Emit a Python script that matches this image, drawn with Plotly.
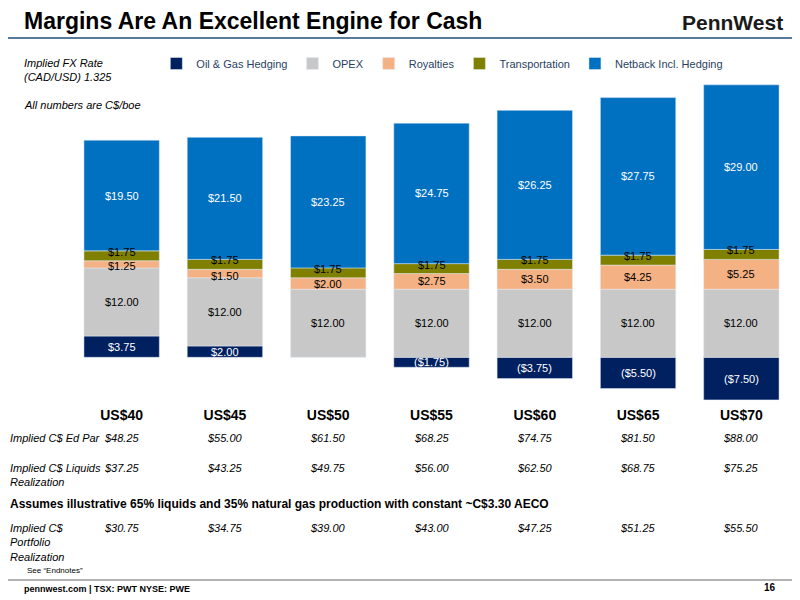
import plotly.graph_objects as go
import numpy as np

cats = ["US$40","US$45","US$50","US$55","US$60","US$65","US$70"]
hedging = [3.75, 2.00, 0, -1.75, -3.75, -5.50, -7.50]
opex = [12.00]*7
royalties = [1.25, 1.50, 2.00, 2.75, 3.50, 4.25, 5.25]
transport = [1.75]*7
netback = [19.50, 21.50, 23.25, 24.75, 26.25, 27.75, 29.00]
ed_par = ["$48.25","$55.00","$61.50","$68.25","$74.75","$81.50","$88.00"]
liquids = ["$37.25","$43.25","$49.75","$56.00","$62.50","$68.75","$75.25"]
portfolio = ["$30.75","$34.75","$39.00","$43.00","$47.25","$51.25","$55.50"]

F = "Liberation Sans, Arial, sans-serif"
series = [("Oil & Gas Hedging", hedging, "#002060", "white"),
          ("OPEX", opex, "#c8c8c8", "black"),
          ("Royalties", royalties, "#f4b183", "black"),
          ("Transportation", transport, "#7f7f00", "black"),
          ("Netback Incl. Hedging", netback, "#0070c0", "white")]
fig = go.Figure()
for name, vals, col, tc in series:
    fig.add_bar(x=cats, y=vals, name=name, marker_color=col, width=0.73)

ann = []
base = np.zeros(7)
for name, vals, col, tc in series:
    v = np.array(vals)
    for i, c in enumerate(cats):
        if v[i] == 0: continue
        if v[i] < 0:
            yc = v[i] / 2; lab = f"(${-v[i]:.2f})"
        else:
            yc = base[i] + v[i] / 2; lab = f"${v[i]:.2f}"
        shift = 0
        if name == "Transportation": shift = 4
        if name == "Royalties" and v[i] < 1.8: shift = -2
        ann.append(dict(x=c, y=yc, xref="x", yref="y", text=lab, showarrow=False, yshift=shift,
                        font=dict(family=F, size=11, color=tc)))
    base = base + np.where(v > 0, v, 0)

def pt(x, y, text, size=11, **kw):
    ann.append(dict(x=x, y=y, xref="paper", yref="paper", text=text, showarrow=False,
                    xanchor=kw.pop("xanchor", "left"), yanchor=kw.pop("yanchor", "top"),
                    align="left", font=dict(family=F, size=size, color=kw.pop("color", "black")), **kw))

W, H = 800, 600
fig.update_layout(
    barmode="relative", width=W, height=H,
    margin=dict(l=62, r=15, t=70, b=203, autoexpand=False),
    plot_bgcolor="white", paper_bgcolor="white",
    xaxis=dict(tickfont=dict(family=F, size=14, color="black"), showline=False, ticks="",
               tickvals=cats, ticktext=[f"<b>{c}</b>" for c in cats], ticklabelstandoff=0),
    yaxis=dict(visible=False, range=[-8.4, 49.2]),
    legend=dict(orientation="h", x=0.515, xanchor="center", y=1.0, yanchor="bottom",
                font=dict(family=F, size=11), traceorder="normal", itemwidth=30),
    font=dict(family=F),
)
def P(xp, yp):
    return (xp - 8 - 62) / 723, (397 - (yp - 8)) / 327
def T(xp, yp, text, size=11, **kw):
    x, y = P(xp, yp); pt(x, y, text, size, **kw)

T(22, 6, "<b>Margins Are An Excellent Engine for Cash</b>", 23)
T(680, 9, "<b>PennWest</b>", 21, color="#1a1a1a")
T(22, 55, "<i>Implied FX Rate<br>(CAD/USD) 1.325</i>", 11)
T(22, 97, "<i>All numbers are C$/boe</i>", 11)
centers = [122 + 103.2 * i for i in range(7)]
T(8, 430, "<i>Implied C$ Ed Par</i>", 11)
T(8, 460, "<i>Implied C$ Liquids<br>Realization</i>", 11)
T(8, 495, "<b>Assumes illustrative 65% liquids and 35% natural gas production with constant ~C$3.30 AECO</b>", 12)
T(8, 520, "<i>Implied C$<br>Portfolio<br>Realization</i>", 11)
T(25, 564, "See \u201cEndnotes\u201d", 8)
for i, cx in enumerate(centers):
    for yy, arr in [(430, ed_par), (460, liquids), (520, portfolio)]:
        x, y = P(cx, yy)
        pt(x, y, f"<i>{arr[i]}</i>", 11, xanchor="center")
T(22, 582, "<b>pennwest.com | TSX: PWT NYSE: PWE</b>", 9)
T(762, 580, "<b>16</b>", 10)
fig.update_layout(annotations=ann)
shapes = []
for yp in [38, 580]:
    _, y = P(0, yp)
    shapes.append(dict(type="line", xref="paper", yref="paper", x0=P(8,0)[0], x1=P(800,0)[0],
                       y0=y, y1=y, line=dict(color="#1f4e79" if yp == 38 else "#999999", width=1.5)))
fig.update_layout(shapes=shapes)
fig.write_html("out.html")
